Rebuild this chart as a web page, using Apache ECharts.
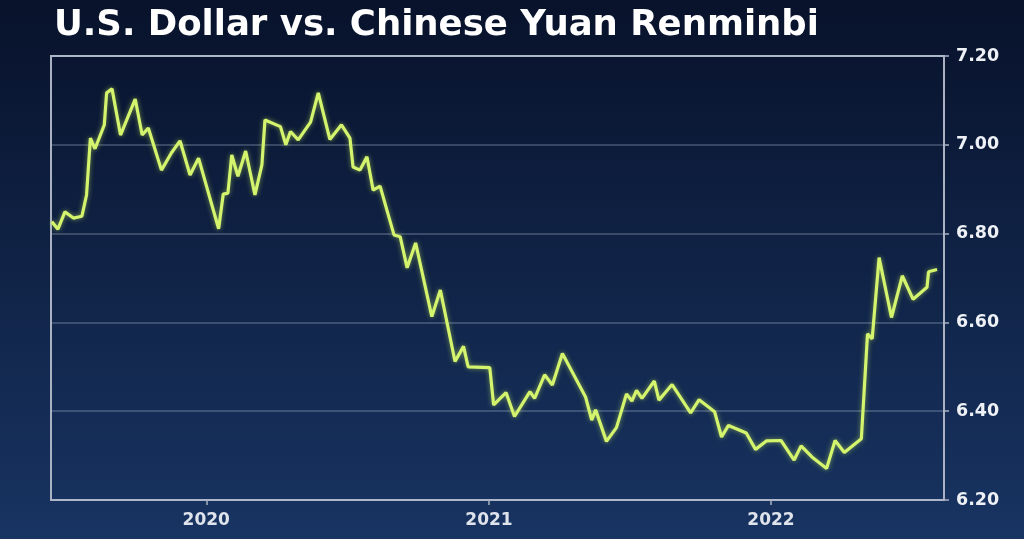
<!DOCTYPE html>
<html>
<head>
<meta charset="utf-8">
<script src="https://cdn.jsdelivr.net/npm/echarts@6/dist/echarts.min.js"></script>
<style>
html,body{margin:0;padding:0;background:#0d1a38;}
#chart{width:1024px;height:539px;}
</style>
</head>
<body>
<div id="chart"></div>
<script>
// Data (USD/CNY)
const dates = [
  '2019-06-15','2019-06-23','2019-07-02','2019-07-13','2019-07-24','2019-07-30','2019-08-04','2019-08-10',
  '2019-08-22','2019-08-25','2019-09-01','2019-09-12','2019-10-01','2019-10-10','2019-10-18','2019-11-04',
  '2019-11-17','2019-11-28','2019-12-11','2019-12-22','2020-01-17','2020-01-23','2020-01-29','2020-02-03',
  '2020-02-11','2020-02-21','2020-03-04','2020-03-13','2020-03-17','2020-04-06','2020-04-13','2020-04-19',
  '2020-04-29','2020-05-15','2020-05-25','2020-06-09','2020-06-24','2020-07-05','2020-07-09','2020-07-18',
  '2020-07-27','2020-08-04','2020-08-13','2020-08-31','2020-09-08','2020-09-17','2020-09-28','2020-10-19',
  '2020-10-30','2020-11-18','2020-11-29','2020-12-05','2021-01-02','2021-01-07','2021-01-23','2021-02-03',
  '2021-02-23','2021-03-01','2021-03-14','2021-03-24','2021-04-06','2021-05-06','2021-05-14','2021-05-19',
  '2021-06-02','2021-06-15','2021-06-28','2021-07-05','2021-07-11','2021-07-18','2021-08-03','2021-08-09',
  '2021-08-26','2021-09-19','2021-09-30','2021-10-20','2021-10-29','2021-11-07','2021-11-30','2021-12-12',
  '2021-12-26','2022-01-14','2022-01-31','2022-02-09','2022-02-23','2022-03-14','2022-03-25','2022-04-06',
  '2022-04-28','2022-05-06','2022-05-12','2022-05-21','2022-06-06','2022-06-20','2022-07-04','2022-07-22',
  '2022-07-24','2022-08-04'
];
const rates = [
  6.827,6.810,6.849,6.835,6.839,6.887,7.015,6.991,
  7.045,7.117,7.126,7.022,7.103,7.022,7.038,6.943,
  6.982,7.009,6.932,6.970,6.811,6.889,6.891,6.977,
  6.929,6.986,6.887,6.955,7.056,7.041,7.000,7.030,
  7.011,7.051,7.117,7.012,7.045,7.015,6.950,6.943,
  6.973,6.898,6.907,6.797,6.793,6.723,6.779,6.613,
  6.673,6.512,6.546,6.500,6.498,6.414,6.442,6.388,
  6.444,6.429,6.482,6.459,6.530,6.432,6.380,6.403,
  6.332,6.363,6.439,6.423,6.447,6.429,6.468,6.425,
  6.460,6.396,6.426,6.399,6.342,6.368,6.351,6.314,
  6.333,6.334,6.290,6.322,6.297,6.271,6.334,6.307,
  6.338,6.574,6.563,6.746,6.611,6.705,6.652,6.679,
  6.714,6.719
];
const yearTicks = ['2020-01-01','2021-01-01','2022-01-01'];
const titleText = 'U.S. Dollar vs. Chinese Yuan Renminbi';
const axisStart = '2019-06-14';
const axisEnd = '2022-08-13';

const toTime = s => { const p = s.split('-').map(Number); return Date.UTC(p[0], p[1] - 1, p[2]); };
const chart = echarts.init(document.getElementById('chart'));
const tickTimes = yearTicks.map(toTime);
const fontFam = '"DejaVu Sans", sans-serif';
chart.setOption({
  animation: false,
  backgroundColor: new echarts.graphic.LinearGradient(0, 0, 0, 1, [
    {offset: 0, color: '#08122b'},
    {offset: 1, color: '#183462'}
  ]),
  title: {
    text: titleText,
    left: 49, top: 3,
    textStyle: {color: '#ffffff', fontFamily: fontFam, fontWeight: 'bold', fontSize: 35.5}
  },
  grid: {
    left: 51, right: 80, top: 56, bottom: 39,
    show: true, borderColor: '#a9b1c2', borderWidth: 2, backgroundColor: 'transparent'
  },
  xAxis: {
    type: 'value',
    min: toTime(axisStart), max: toTime(axisEnd),
    axisLine: {show: false},
    splitLine: {show: false},
    axisTick: {show: true, customValues: tickTimes, length: 5, lineStyle: {color: '#a9b1c2', width: 1.5}},
    axisLabel: {
      customValues: tickTimes,
      formatter: v => String(new Date(v).getUTCFullYear()),
      color: '#dfe3ec', fontFamily: fontFam, fontWeight: 'bold', fontSize: 17, margin: 12
    }
  },
  yAxis: {
    type: 'value',
    position: 'right',
    min: 6.2, max: 7.2, interval: 0.2,
    axisLine: {show: false},
    axisTick: {show: true, length: 5, lineStyle: {color: '#a9b1c2', width: 1.5}},
    axisLabel: {
      formatter: v => v.toFixed(2),
      color: '#eef1f6', fontFamily: fontFam, fontWeight: 'bold', fontSize: 17.5, margin: 12
    },
    splitLine: {show: true, lineStyle: {color: 'rgba(190,200,222,0.34)', width: 1.5}}
  },
  series: [{
    type: 'line',
    data: dates.map((d, i) => [toTime(d), rates[i]]),
    showSymbol: false,
    lineStyle: {color: '#d4f46e', width: 3.2, shadowColor: 'rgba(200,240,90,0.55)', shadowBlur: 5}
  }]
});
</script>
</body>
</html>
